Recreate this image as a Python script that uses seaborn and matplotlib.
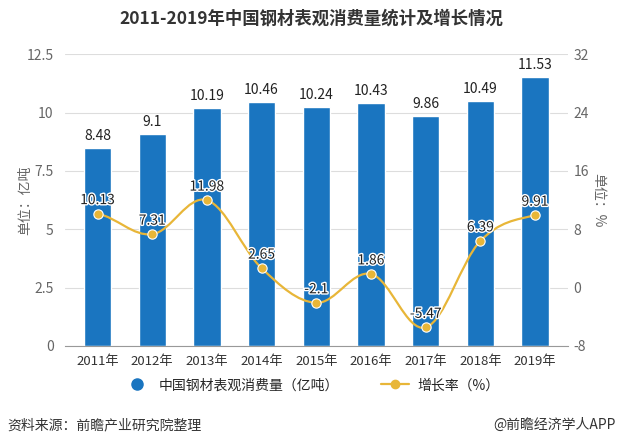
import numpy as np
import pandas as pd
import matplotlib
matplotlib.use("Agg")
import matplotlib.pyplot as plt
import seaborn as sns
import matplotlib.patheffects as pe
from matplotlib.path import Path
from matplotlib.patches import PathPatch
from matplotlib.lines import Line2D

years = ["2011年", "2012年", "2013年", "2014年", "2015年", "2016年", "2017年", "2018年", "2019年"]
consumption = [8.48, 9.1, 10.19, 10.46, 10.24, 10.43, 9.86, 10.49, 11.53]
growth = [10.13, 7.31, 11.98, 2.65, -2.1, 1.86, -5.47, 6.39, 9.91]

df = pd.DataFrame({"year": years, "consumption": consumption, "growth": growth})

sns.set_style("white")
plt.rcParams["font.family"] = ["Noto Sans CJK SC", "DejaVu Sans"]
plt.rcParams["axes.unicode_minus"] = False

blue = "#1a75c0"
gold = "#e8b638"
grey = "#666666"

fig = plt.figure(figsize=(6.22, 4.48), dpi=100)
ax = fig.add_axes([0.104, 0.228, 0.809, 0.651])

sns.barplot(data=df, x="year", y="consumption", color=blue, width=0.5,
            saturation=1, ax=ax, zorder=2)
ax.set_xlim(-0.6, 8.6)
ax.set_ylim(0, 12.5)
ax.set_yticks([0, 2.5, 5, 7.5, 10, 12.5])
ax.set_yticklabels(["0", "2.5", "5", "7.5", "10", "12.5"])
ax.grid(axis="y", color="#dddddd", linewidth=0.8, zorder=0)
ax.set_axisbelow(True)
ax.set_xlabel("")
ax.set_ylabel("单位：亿吨", color=grey, fontsize=10)
ax.yaxis.set_label_coords(-0.065, 0.5)
for s in ["top", "right", "left"]:
    ax.spines[s].set_visible(False)
ax.spines["bottom"].set_color("#999999")
ax.tick_params(axis="y", length=0, colors=grey, labelsize=10, pad=8)
ax.tick_params(axis="x", length=3, colors="#999999", labelsize=9.5, labelcolor="#333333")

for i, v in enumerate(consumption):
    ax.text(i, v + 0.2, f"{v:g}", ha="center", va="bottom", fontsize=10, color="#222222")

ax2 = ax.twinx()
ax2.set_ylim(-8, 32)
ax2.set_yticks([-8, 0, 8, 16, 24, 32])
ax2.tick_params(axis="y", length=0, colors=grey, labelsize=10, pad=4)
for s in ax2.spines.values():
    s.set_visible(False)
ax2.set_ylabel("单位：%", color=grey, fontsize=10, rotation=270)
ax2.yaxis.set_label_coords(1.075, 0.5)

# smooth curve through the points (cubic bezier segments)
xs = np.arange(len(growth), dtype=float)
ys = np.array(growth, dtype=float)
verts = [(xs[0], ys[0])]
codes = [Path.MOVETO]
t = 0.35
for i in range(len(xs) - 1):
    y_prev = ys[i - 1] if i > 0 else ys[i]
    y_next2 = ys[i + 2] if i + 2 < len(ys) else ys[i + 1]
    c1 = (xs[i] + t, ys[i] + (ys[i + 1] - y_prev) * t / 2)
    c2 = (xs[i + 1] - t, ys[i + 1] - (y_next2 - ys[i]) * t / 2)
    verts += [c1, c2, (xs[i + 1], ys[i + 1])]
    codes += [Path.CURVE4, Path.CURVE4, Path.CURVE4]
ax2.add_patch(PathPatch(Path(verts, codes), facecolor="none", edgecolor=gold,
                        linewidth=1.6, zorder=3))
sns.scatterplot(x=xs, y=ys, color=gold, s=45, edgecolor="white", linewidth=0.8,
                ax=ax2, zorder=4, legend=False)
for x, v in zip(xs, growth):
    ax2.text(x, v + 0.9, f"{v:g}", ha="center", va="bottom", fontsize=10,
             color="#222222", zorder=5,
             path_effects=[pe.withStroke(linewidth=2, foreground="white")])

handles = [
    Line2D([], [], marker="o", linestyle="none", color=blue, markersize=8),
    Line2D([], [], marker="o", color=gold, markersize=6, linewidth=1.6),
]
fig.legend(handles, ["中国钢材表观消费量（亿吨）", "增长率（%）"], loc="center",
           bbox_to_anchor=(0.5, 0.14), ncol=2, frameon=False, fontsize=10,
           columnspacing=3, handletextpad=0.6)

fig.text(0.5, 0.958, "2011-2019年中国钢材表观消费量统计及增长情况", ha="center", va="center",
         fontsize=12.5, fontweight="bold", color="#333333")
fig.text(0.012, 0.051, "资料来源：前瞻产业研究院整理", ha="left", va="center",
         fontsize=10, color="#333333")
fig.text(0.99, 0.051, "@前瞻经济学人APP", ha="right", va="center",
         fontsize=10, color="#333333")

fig.savefig("out.png", dpi=100)
